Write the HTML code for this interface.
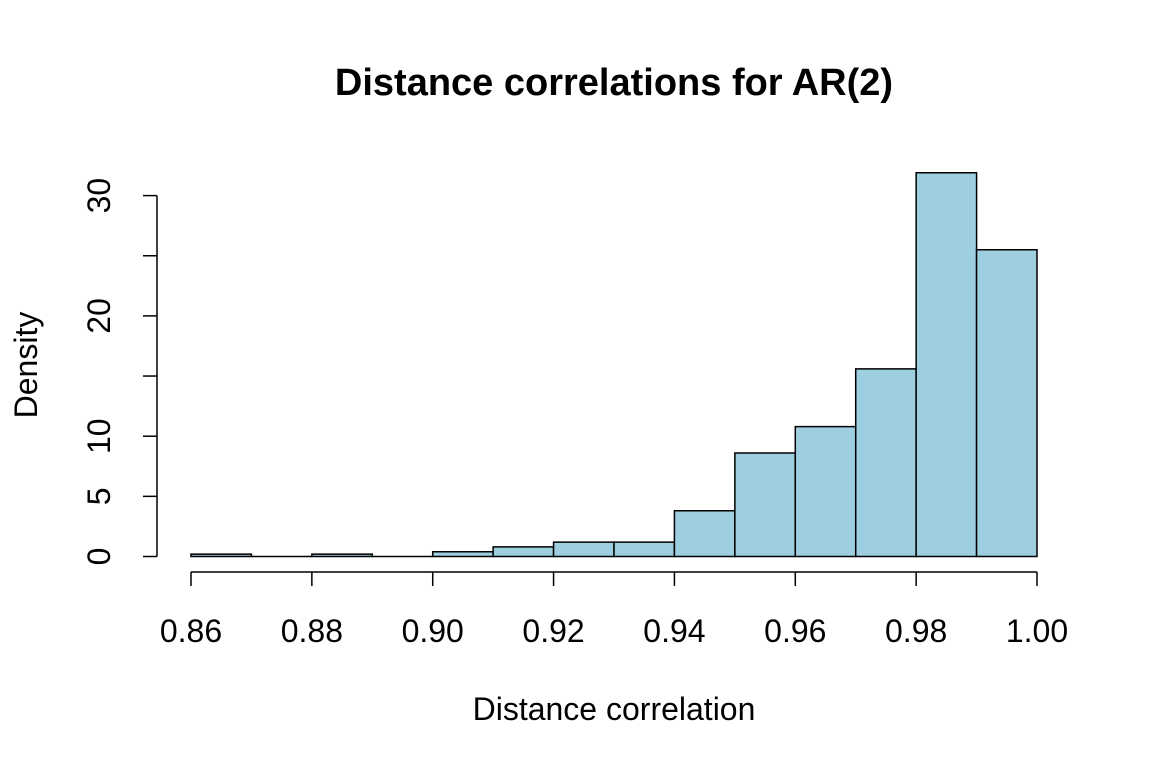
<!DOCTYPE html>
<html><head><meta charset="utf-8"><style>
body{margin:0;background:#fff;width:1152px;height:768px;overflow:hidden}
text{font-family:"Liberation Sans",Arial,sans-serif;fill:#000}
</style></head><body>
<svg id="chart" width="1152" height="768" xmlns="http://www.w3.org/2000/svg">
<text x="614" y="95" font-size="38" font-weight="bold" text-anchor="middle">Distance correlations for AR(2)</text>
<text x="614" y="720" font-size="32" text-anchor="middle">Distance correlation</text>
<text transform="translate(37,365) rotate(-90)" font-size="32" text-anchor="middle">Density</text>
<g id="bars"></g><g id="xaxis"></g><g id="yaxis"></g>
</svg>
<script>
const binStarts=[0.86,0.87,0.88,0.89,0.90,0.91,0.92,0.93,0.94,0.95,0.96,0.97,0.98,0.99];
const densities=[0.2,0,0.2,0,0.4,0.8,1.2,1.2,3.8,8.6,10.8,15.6,31.9,25.5];
const binWidth=0.01;
const xTicks=[0.86,0.88,0.90,0.92,0.94,0.96,0.98,1.00];
const yTicks=[0,5,10,15,20,25,30];
const yLabels=["0","5","10","","20","","30"];
const NS="http://www.w3.org/2000/svg";
const xs=v=>191+(v-0.86)/0.14*846;
const ys=v=>556.5-v*12.03;
function mk(t,a,p){const e=document.createElementNS(NS,t);for(const k in a)e.setAttribute(k,a[k]);p.appendChild(e);return e;}
const bars=document.getElementById('bars');
binStarts.forEach((b,i)=>{
 const x0=xs(b),x1=xs(b+binWidth),y0=ys(0),y1=ys(densities[i]);
 const r=mk('path',{d:`M${x0},${y0}L${x0},${y1}L${x1},${y1}L${x1},${y0}Z`,fill:'#9ecfe0',stroke:'#000','stroke-width':1.5},bars);
 
 
});
const xa=document.getElementById('xaxis');
mk('line',{x1:xs(0.86),x2:xs(1.0),y1:572,y2:572,stroke:'#000','stroke-width':1.5},xa);
xTicks.forEach(t=>{
 mk('line',{x1:xs(t),x2:xs(t),y1:572,y2:586,stroke:'#000','stroke-width':1.5},xa);
 const tx=mk('text',{x:xs(t),y:642,'font-size':32,'text-anchor':'middle'},xa);
 tx.textContent=t.toFixed(2);
 
 
});
const ya=document.getElementById('yaxis');
mk('line',{x1:157,x2:157,y1:ys(0),y2:ys(30),stroke:'#000','stroke-width':1.5},ya);
yTicks.forEach((t,i)=>{
 mk('line',{x1:143,x2:157,y1:ys(t),y2:ys(t),stroke:'#000','stroke-width':1.5},ya);
 if(yLabels[i]){
 const tx=mk('text',{transform:`translate(110,${ys(t)}) rotate(-90)`,'font-size':32,'text-anchor':'middle'},ya);
 tx.textContent=yLabels[i];
 
 
 }
});
</script>
</body></html>
